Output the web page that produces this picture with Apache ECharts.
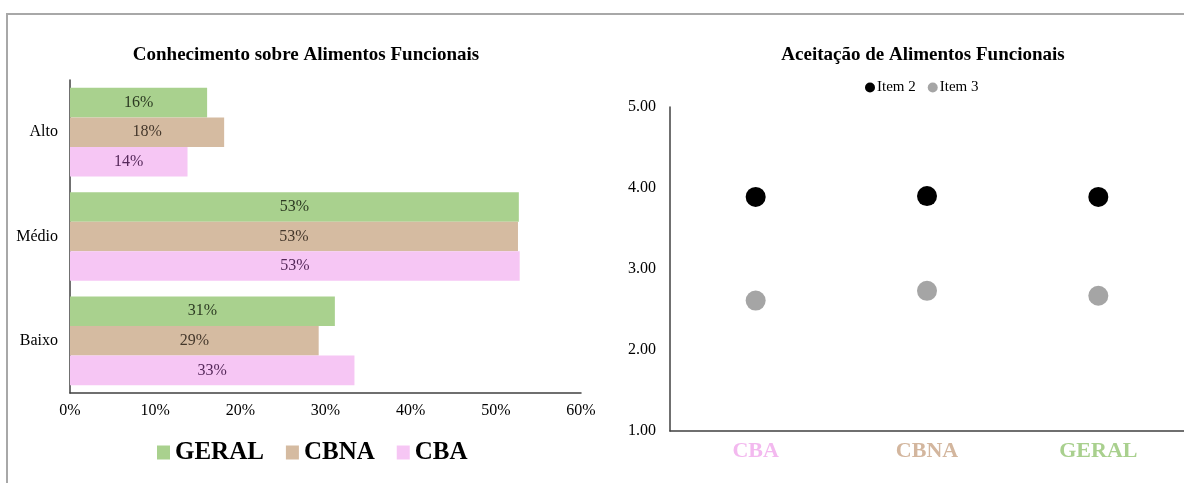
<!DOCTYPE html>
<html>
<head>
<meta charset="utf-8">
<script src="https://cdn.jsdelivr.net/npm/echarts@6/dist/echarts.min.js"></script>
<style>
  html, body { margin: 0; padding: 0; background: #fff; }
  #chart { width: 1184px; height: 483px; }
</style>
</head>
<body>
<div id="chart"></div>
<script>
// Knowledge levels (horizontal bars), values in %
const levels = ['Alto', 'Médio', 'Baixo'];
const geral = [16.1, 52.7, 31.1];
const cbna = [18.1, 52.6, 29.2];
const cba = [13.8, 52.8, 33.4];
const pctTicks = [0, 10, 20, 30, 40, 50, 60];

// Acceptance scores (dot plot)
const groups = ['CBA', 'CBNA', 'GERAL'];
const item2 = [3.89, 3.90, 3.89];
const item3 = [2.61, 2.73, 2.67];

const SERIF = '"Liberation Serif", "Times New Roman", serif';
const C_GERAL = '#a9d18e';
const C_CBNA = '#d5bba1';
const C_CBA = '#f6c6f4';
const groupColors = { CBA: '#f3b9ef', CBNA: '#d3b69e', GERAL: '#a9d08e' };
const axisLine = { show: true, lineStyle: { color: '#404040', width: 1.5 } };

const chart = echarts.init(document.getElementById('chart'));

function barSeries(name, data, color, labelColor) {
  return {
    name, type: 'bar', xAxisIndex: 0, yAxisIndex: 0,
    data, barGap: '0%', barCategoryGap: '15%',
    itemStyle: { color },
    label: {
      show: true, position: 'inside', color: labelColor,
      fontFamily: SERIF, fontSize: 16,
      formatter: p => Math.round(p.value) + '%'
    }
  };
}

const richLabels = {};
groups.forEach(g => {
  richLabels[g] = { color: groupColors[g], fontFamily: SERIF, fontSize: 22, fontWeight: 'bold' };
});

chart.setOption({
  animation: false,
  backgroundColor: '#fff',
  graphic: [{
    type: 'polyline', silent: true,
    shape: { points: [[7, 483], [7, 14], [1184, 14]] },
    style: { stroke: '#a8a8a8', lineWidth: 2, fill: null }
  }],
  title: [
    { text: 'Conhecimento sobre Alimentos Funcionais', left: 301, top: 41, textAlign: 'center',
      textStyle: { fontFamily: SERIF, fontSize: 19, fontWeight: 'bold', color: '#000' } },
    { text: 'Aceitação de Alimentos Funcionais', left: 918, top: 41, textAlign: 'center',
      textStyle: { fontFamily: SERIF, fontSize: 19, fontWeight: 'bold', color: '#000' } }
  ],
  legend: [
    { data: ['GERAL', 'CBNA', 'CBA'], left: 152, top: 435, itemWidth: 13, itemHeight: 14,
      itemGap: 22, icon: 'rect',
      textStyle: { fontFamily: SERIF, fontSize: 25, fontWeight: 'bold', color: '#000' } },
    { data: ['Item 2', 'Item 3'], left: 860, top: 75, itemWidth: 10, itemHeight: 10,
      itemGap: 12, icon: 'circle',
      textStyle: { fontFamily: SERIF, fontSize: 15, color: '#000', padding: [0, 0, 0, -3] } }
  ],
  grid: [
    { left: 70, top: 80, width: 511, height: 313 },
    { left: 670, top: 107, right: -17, height: 324 }
  ],
  xAxis: [
    { type: 'value', gridIndex: 0, min: pctTicks[0], max: pctTicks[pctTicks.length - 1], interval: 10,
      axisLine, axisTick: { show: false }, splitLine: { show: false },
      axisLabel: { fontFamily: SERIF, fontSize: 16, color: '#000', margin: 10, formatter: '{value}%' } },
    { type: 'category', gridIndex: 1, data: groups, boundaryGap: true,
      axisLine, axisTick: { show: false },
      axisLabel: { interval: 0, hideOverlap: false, fontFamily: SERIF, fontSize: 22, fontWeight: 'bold', margin: 9,
        formatter: v => '{' + v + '|' + v + '}', rich: richLabels } }
  ],
  yAxis: [
    { type: 'category', gridIndex: 0, data: levels, inverse: true,
      axisLine, axisTick: { show: false },
      axisLabel: { fontFamily: SERIF, fontSize: 16, color: '#000', margin: 12 } },
    { type: 'value', gridIndex: 1, min: 1, max: 5, interval: 1,
      axisLine, axisTick: { show: false }, splitLine: { show: false },
      axisLabel: { fontFamily: SERIF, fontSize: 16, color: '#000', margin: 14,
        formatter: v => v.toFixed(2) } }
  ],
  series: [
    barSeries('GERAL', geral, C_GERAL, '#2c3a22'),
    barSeries('CBNA', cbna, C_CBNA, '#44372b'),
    barSeries('CBA', cba, C_CBA, '#55285a'),
    { name: 'Item 2', type: 'scatter', xAxisIndex: 1, yAxisIndex: 1, data: item2,
      symbolSize: 20, itemStyle: { color: '#000', opacity: 1 } },
    { name: 'Item 3', type: 'scatter', xAxisIndex: 1, yAxisIndex: 1, data: item3,
      symbolSize: 20, itemStyle: { color: '#a5a5a5', opacity: 1 } }
  ]
});
</script>
</body>
</html>
